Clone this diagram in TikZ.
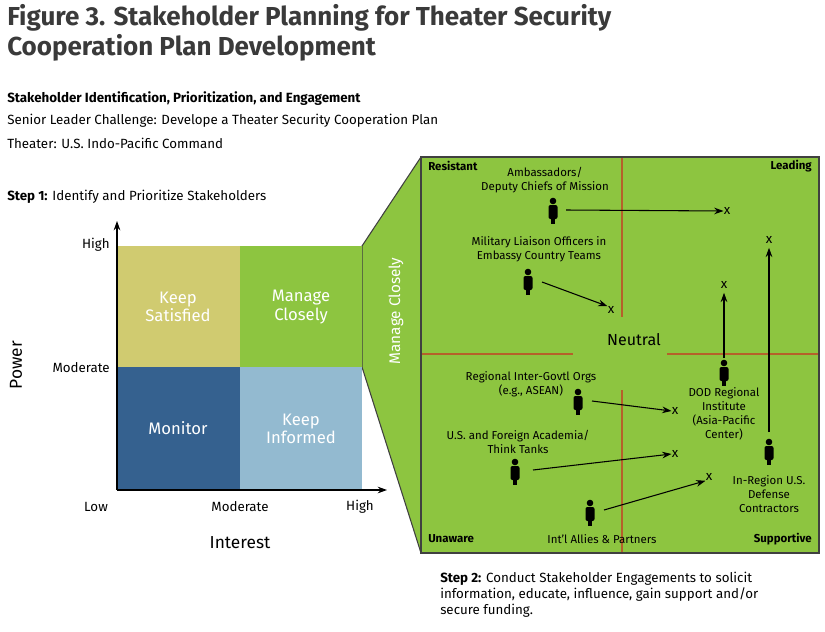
\documentclass[tikz,border=0pt]{standalone}
\usepackage{fontspec}
\setmainfont{Fira Sans}
\usetikzlibrary{arrows.meta}
\definecolor{ttl}{HTML}{3A3A3A}
\definecolor{ks}{HTML}{D0CB70}
\definecolor{gr}{HTML}{8DC540}
\definecolor{mon}{HTML}{35618F}
\definecolor{ki}{HTML}{93BAD0}
\definecolor{rl}{HTML}{B5612A}
\tikzset{
 txt/.style={font=\fontsize{10}{12}\selectfont, text=black, align=center, inner sep=0},
 sm/.style={font=\fontsize{8.6}{10.5}\selectfont, text=black, align=center, inner sep=0},
 cell/.style={font=\fontsize{12.5}{14}\selectfont, text=white, align=center, inner sep=0},
 arr/.style={-{Stealth[length=7pt,width=5pt]}, line width=0.8pt},
 xm/.style={font=\fontsize{10}{12}\selectfont, inner sep=0},
 redl/.style={rl, line width=1pt},
}
\newcommand{\person}[2]{%
 \fill (#1,#2-9) circle (3.3);
 \fill[rounded corners=1.5] (#1-4.5,#2-5) rectangle (#1+4.5,#2+9);
 \fill (#1-2.3,#2+8) rectangle (#1+2.3,#2+14);}
\begin{document}
\begin{tikzpicture}[x=0.75pt,y=-0.75pt]
\useasboundingbox (0,0) rectangle (825,632);
% title
\node[anchor=west, text=ttl, font=\fontsize{19.5}{22}\selectfont\bfseries, inner sep=0] (t1) at (7,18) {Figure 3. Stakeholder Planning for Theater Security};
\node[anchor=west, text=ttl, font=\fontsize{19.5}{22}\selectfont\bfseries, inner sep=0] (t2) at (7,48) {Cooperation Plan Development};
\node[anchor=west, txt, font=\fontsize{10}{12}\selectfont\bfseries] (s1) at (7,99) {Stakeholder Identification, Prioritization, and Engagement};
\node[anchor=west, txt] (s2) at (7,121) {Senior Leader Challenge: Develope a Theater Security Cooperation Plan};
\node[anchor=west, txt] (s3) at (7,143) {Theater: U.S. Indo-Pacific Command};
\node[anchor=west, txt] (st1) at (7,197) {\textbf{Step 1:} Identify and Prioritize Stakeholders};
% trapezoid
\fill[gr] (362,246) -- (421,157) -- (421,553) -- (362,367) -- cycle;
\draw[line width=0.8pt, black!75] (362,367) -- (362,246) -- (421,157) (362,367) -- (421,553);
\node[cell, rotate=90, font=\fontsize{11.5}{13}\selectfont] (mcv) at (396,311) {Manage Closely};
% matrix
\fill[ks] (117,246) rectangle (240,367);
\fill[gr] (240,246) rectangle (362,367);
\fill[mon] (117,367) rectangle (240,490);
\fill[ki] (240,367) rectangle (362,490);
\node[cell] (c1) at (178,307) {Keep\\Satisfied};
\node[cell] (c2) at (301,307) {Manage\\Closely};
\node[cell] (c3) at (178,428) {Monitor};
\node[cell] (c4) at (301,429) {Keep\\Informed};
\coordinate (o) at (117,490);
\coordinate (ytop) at (117,221);
\coordinate (xend) at (387,490);
\draw[-{Stealth[length=7pt,width=5pt]}, line width=0.8pt] (o) -- (ytop);
\draw[-{Stealth[length=7pt,width=5pt]}, line width=0.8pt] (o) -- (xend);
\node[txt, anchor=east] (yh) at (110,245) {High};
\node[txt, anchor=east] (ym) at (110,368) {Moderate};
\node[txt] (xl) at (96,507) {Low};
\node[txt] (xm) at (240,507) {Moderate};
\node[txt] (xh) at (360,507) {High};
\node[txt, rotate=90, font=\fontsize{13}{15}\selectfont] (pw) at (16,365) {Power};
\node[txt, font=\fontsize{13}{15}\selectfont] (in) at (240,543) {Interest};
% panel
\fill[gr] (421,157) rectangle (819,553);
\draw[redl] (622,157) -- (622,317) (622,390) -- (622,553) (421,354) -- (573,354) (667,354) -- (819,354);
\draw[line width=1pt, black!75] (421,157) rectangle (819,553);
\node[sm, font=\fontsize{8.6}{10}\selectfont\bfseries, anchor=west] (r1) at (428,166) {Resistant};
\node[sm, font=\fontsize{8.6}{10}\selectfont\bfseries, anchor=east] (r2) at (812,166) {Leading};
\node[sm, font=\fontsize{8.6}{10}\selectfont\bfseries, anchor=west] (r3) at (428,539) {Unaware};
\node[sm, font=\fontsize{8.6}{10}\selectfont\bfseries, anchor=east] (r4) at (812,539) {Supportive};
\node[txt, font=\fontsize{12}{14}\selectfont] (neu) at (634,340) {Neutral};
% stakeholders
\person{553}{210}\person{528}{281}\person{578}{401}\person{515}{471}\person{590}{512}\person{724}{372}\person{769}{451}
\node[sm] (l1) at (545,180) {Ambassadors/\\Deputy Chiefs of Mission};
\node[sm] (l2) at (539,249) {Military Liaison Officers in\\Embassy Country Teams};
\node[sm] (l3) at (531,384) {Regional Inter-Govtl Orgs\\(e.g., ASEAN)};
\node[sm] (l4) at (518,442) {U.S. and Foreign Academia/\\Think Tanks};
\node[sm] (l5) at (602,539) {Int'l Allies \& Partners};
\node[sm] (l6) at (724,414) {DOD Regional\\Institute\\(Asia-Pacific\\Center)};
\node[sm] (l7) at (769,494) {In-Region U.S.\\Defense\\Contractors};
\coordinate (a1) at (566,210); \node[xm] (x1) at (727,211) {x};
\coordinate (a2) at (542,282); \node[xm] (x2) at (611,310) {x};
\coordinate (a3) at (592,401); \node[xm] (x3) at (675,411) {x};
\coordinate (a4) at (533,470); \node[xm] (x4) at (675,454) {x};
\coordinate (a5) at (604,510); \node[xm] (x5) at (709,477) {x};
\coordinate (a6) at (724,358); \node[xm] (x6) at (724,285) {x};
\coordinate (a7) at (769,432); \node[xm] (x7) at (769,240) {x};
\draw[arr] (a1) -- (x1.west);
\draw[arr] (a2) -- (x2.north west);
\draw[arr] (a3) -- (x3.west);
\draw[arr] (a4) -- (x4.west);
\draw[arr] (a5) -- (x5.south west);
\draw[arr] (a6) -- ([yshift=-3pt]x6.south);
\draw[arr] (a7) -- ([yshift=-3pt]x7.south);
\node[txt, anchor=north west, align=left] (st2) at (440,572) {\textbf{Step 2:} Conduct Stakeholder Engagements to solicit\\information, educate, influence, gain support and/or\\secure funding.};
\end{tikzpicture}
\end{document}
